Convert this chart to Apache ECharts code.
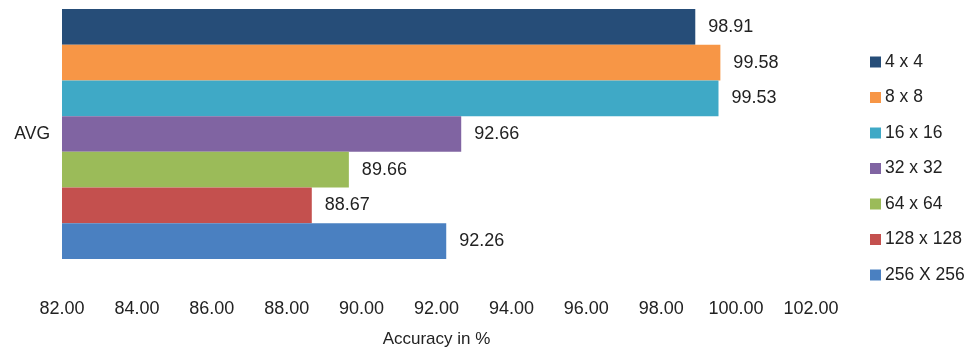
<!DOCTYPE html>
<html>
<head>
<meta charset="utf-8">
<script src="https://cdn.jsdelivr.net/npm/echarts@6/dist/echarts.min.js"></script>
<style>
  html, body { margin: 0; padding: 0; background: #fff; }
  #chart { width: 971px; height: 352px; }
</style>
</head>
<body>
<div id="chart"></div>
<script>
// Average accuracy per block size
const categories = ['AVG'];
const seriesNames = ['4 x 4', '8 x 8', '16 x 16', '32 x 32', '64 x 64', '128 x 128', '256 X 256'];
const seriesValues = [98.91, 99.58, 99.53, 92.66, 89.66, 88.67, 92.26];
const seriesColors = ['#264d78', '#f79646', '#3fa9c6', '#8064a2', '#9bbb59', '#c4504e', '#4a80c1'];
const xTicks = { min: 82, max: 102, interval: 2 };

const FONT = 'Liberation Sans, Arial, sans-serif';
const TEXT = '#222';
const chart = echarts.init(document.getElementById('chart'));

const series = seriesNames.map((name, i) => ({
  name: name,
  type: 'bar',
  data: [seriesValues[i]],
  itemStyle: { color: seriesColors[i] },
  barGap: '0%',
  barCategoryGap: '0%',
  label: {
    show: true,
    position: 'right',
    distance: 13,
    formatter: p => p.value.toFixed(2),
    color: TEXT,
    fontFamily: FONT,
    fontSize: 18
  }
}));

chart.setOption({
  animation: false,
  backgroundColor: '#fff',
  grid: { left: 62, right: 160, top: 9, bottom: 93, containLabel: false, outerBoundsMode: 'none' },
  xAxis: {
    type: 'value',
    min: xTicks.min,
    max: xTicks.max,
    interval: xTicks.interval,
    name: 'Accuracy in %',
    nameLocation: 'middle',
    nameGap: 72,
    nameTextStyle: { color: TEXT, fontFamily: FONT, fontSize: 17 },
    axisLine: { show: false },
    axisTick: { show: false },
    splitLine: { show: false },
    axisLabel: {
      margin: 41,
      color: TEXT,
      fontFamily: FONT,
      fontSize: 18,
      formatter: v => v.toFixed(2)
    }
  },
  yAxis: {
    type: 'category',
    data: categories,
    inverse: true,
    axisLine: { show: false },
    axisTick: { show: false },
    axisLabel: { margin: 12, color: TEXT, fontFamily: FONT, fontSize: 17.5, padding: [0, 0, 5, 0] }
  },
  legend: {
    orient: 'vertical',
    left: 865,
    top: 48,
    data: seriesNames,
    icon: 'rect',
    itemWidth: 11,
    itemHeight: 11,
    itemGap: 17.5,
    textStyle: { color: TEXT, fontFamily: FONT, fontSize: 17.5, padding: [0, 0, 0, -1] }
  },
  series: series
});
</script>
</body>
</html>
